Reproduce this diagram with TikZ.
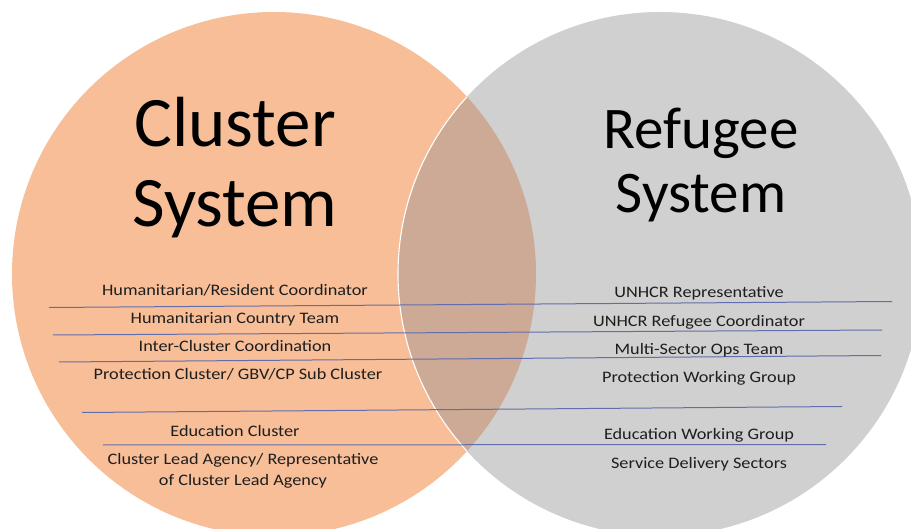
\documentclass[tikz,border=0pt]{standalone}
\usepackage{fontspec}
\setmainfont{Carlito}
\newfontfamily\smallf[FakeStretch=1.14]{Carlito}
\definecolor{orangefill}{RGB}{247,190,152}
\definecolor{greyfill}{RGB}{208,208,208}
\definecolor{overlapfill}{RGB}{205,170,149}
\definecolor{rowline}{RGB}{98,110,172}
\definecolor{txt}{RGB}{30,30,30}
\tikzset{
  titleL/.style={font=\fontsize{71}{80}\selectfont, align=center, anchor=base, text=black, inner sep=0pt},
  titleR/.style={font=\fontsize{59}{64}\selectfont, align=center, anchor=base, text=black, inner sep=0pt},
  item/.style={font=\smallf\fontsize{16}{20.5}\selectfont, anchor=base, align=center, text=txt, inner sep=0pt},
  rowrule/.style={draw=rowline, line width=1pt}
}
\begin{document}
\begin{tikzpicture}[x=1pt,y=-1pt]
\useasboundingbox (0,0) rectangle (911,529);
\clip (0,0) rectangle (911,529);
% circles
\fill[orangefill] (274,274) circle (262);
\fill[greyfill] (660,274) circle (262);
\begin{scope}
  \clip (274,274) circle (262);
  \fill[overlapfill] (660,274) circle (262);
  \draw[white, line width=1.1pt] (660,274) circle (262);
\end{scope}
% titles (base anchor = baseline of the last line)
\node[titleL] (cl) at (235,227) {Cluster\\System};
\node[titleR] (rf) at (701,213) {Refugee\\System};
% row rules
\coordinate (a1) at (49,307.5);  \coordinate (b1) at (892,301.5);
\coordinate (a2) at (53,335);    \coordinate (b2) at (882,330);
\coordinate (a3) at (59,362);    \coordinate (b3) at (881,355.5);
\coordinate (a4) at (82,412.5);  \coordinate (b4) at (842,406.5);
\coordinate (a5) at (103,445);   \coordinate (b5) at (826,444.5);
\draw[rowrule] (a1) -- (b1);
\draw[rowrule] (a2) -- (b2);
\draw[rowrule] (a3) -- (b3);
\draw[rowrule] (a4) -- (b4);
\draw[rowrule] (a5) -- (b5);
% left items
\node[item] (l1) at (235,295.5) {Humanitarian/Resident Coordinator};
\node[item] (l2) at (235,324) {Humanitarian Country Team};
\node[item] (l3) at (235,352) {Inter-Cluster Coordination};
\node[item] (l4) at (238,380) {Protection Cluster/ GBV/CP Sub Cluster};
\node[item] (l5) at (235,437) {Education Cluster};
\node[item] (l6) at (243,485) {Cluster Lead Agency/ Representative\\of Cluster Lead Agency};
% right items
\node[item] (r1) at (699,298) {UNHCR Representative};
\node[item] (r2) at (699,327) {UNHCR Refugee Coordinator};
\node[item] (r3) at (699,355) {Multi-Sector Ops Team};
\node[item] (r4) at (699,383) {Protection Working Group};
\node[item] (r5) at (699,439.5) {Education Working Group};
\node[item] (r6) at (699,468) {Service Delivery Sectors};
\end{tikzpicture}
\end{document}
